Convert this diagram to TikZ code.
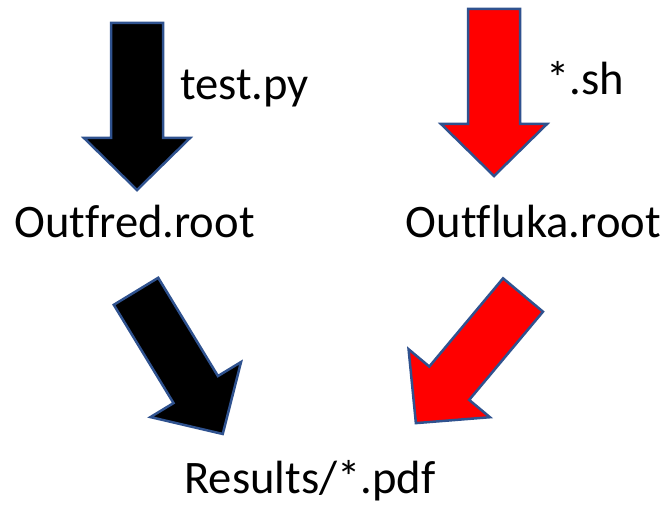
\documentclass[tikz,border=0pt]{standalone}
\usepackage{fontspec}
\setmainfont{Carlito}[Ligatures=NoCommon]
\usepackage{tikz}
\usetikzlibrary{positioning}

\definecolor{edgeblue}{HTML}{2F528F}
\tikzstyle{label} = [inner sep=0pt, font=\fontsize{46.6}{56}\selectfont]
\tikzstyle{blackarrow} = [fill=black, draw=edgeblue, line width=2.5pt, line join=miter]
\tikzstyle{redarrow} = [fill=red, draw=edgeblue, line width=2.5pt, line join=miter]

% fat block arrow, tail centred on the origin, pointing down
\tikzset{
  pics/blockarrow/.style={code={
    \path[#1] (-26,0) -- (26,0) -- (26,115) -- (53,115) -- (0,167)
      -- (-53,115) -- (-26,115) -- cycle;
  }}
}

\begin{document}
\begin{tikzpicture}[x=1pt, y=-1pt]
  \useasboundingbox (0,0) rectangle (669,505);

  \node (fred) [label, anchor=base] at (134.5,237) {Outfred.root};
  \node (fluka) [label, anchor=base] at (533.5,237) {Outfluka.root};
  \node (results) [label, anchor=base] at (310,493) {Results/*.pdf};

  \node (testpy) [label, anchor=base west] at (180,100) {test.py};
  \node (sh) [label, anchor=base west] at (546,95) {*.sh};

  \pic at (137,23) {blockarrow=blackarrow};
  \pic at (494,9) {blockarrow=redarrow};
  \pic[rotate=31.3] at (136,291.3) {blockarrow=blackarrow};
  \pic[rotate=-39.9] at (523,295) {blockarrow=redarrow};
\end{tikzpicture}
\end{document}
